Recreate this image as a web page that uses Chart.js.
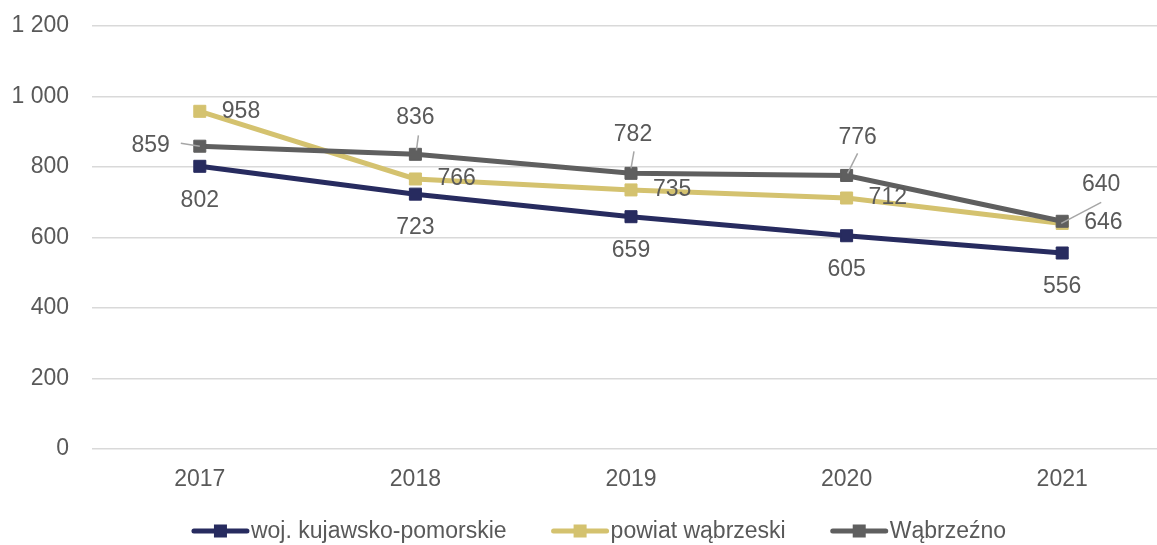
<!DOCTYPE html>
<html lang="pl">
<head>
<meta charset="utf-8">
<title>Wykres</title>
<script src="https://cdn.jsdelivr.net/npm/chart.js@4/dist/chart.umd.min.js"></script>
<style>
    html, body { margin: 0; padding: 0; background: #fff; overflow: hidden; }
    #wrap { position: relative; width: 1170px; height: 545px; }
</style>
</head>
<body>
<div id="wrap"><canvas id="chart"></canvas></div>
<script>
// dane
const years = ['2017', '2018', '2019', '2020', '2021'];
const seriesNames = ['woj. kujawsko-pomorskie', 'powiat wąbrzeski', 'Wąbrzeźno'];
const wojValues = [802, 723, 659, 605, 556];
const powiatValues = [958, 766, 735, 712, 640];
const miastoValues = [859, 836, 782, 776, 646];
const yTickValues = [0, 200, 400, 600, 800, 1000, 1200];

const colors = ['#272b5f', '#d4c26f', '#5f5f5f'];
const textColor = '#595959';
const fontFamily = "'Liberation Sans', Arial, sans-serif";

// rozmieszczenie etykiet wartości (przesunięcie względem punktu)
const labelPos = [
    years.map(() => ({ dx: 0, dy: 34, align: 'center' })),
    [
        { dx: 22, dy: 0, align: 'left' },
        { dx: 22, dy: 0, align: 'left' },
        { dx: 22, dy: 0, align: 'left' },
        { dx: 22, dy: 0, align: 'left' },
        { dx: 39, dy: -39, align: 'center', leader: [39, -21, -1, 0] }
    ],
    [
        { dx: -30, dy: -1, align: 'right', leader: [-19, -3, 0, 0] },
        { dx: 0, dy: -37, align: 'center', leader: [3, -19, 1, -4] },
        { dx: 2, dy: -39, align: 'center', leader: [3, -22, 0, -5] },
        { dx: 11, dy: -38, align: 'center', leader: [11, -22, 1, -2] },
        { dx: 22, dy: 1, align: 'left' }
    ]
];

function fmt(v) {
    return String(v).replace(/\B(?=(\d{3})+(?!\d))/g, ' ');
}

// etykiety wartości z liniami odniesienia
const valueLabels = {
    id: 'valueLabels',
    afterDatasetsDraw(chart) {
        const ctx = chart.ctx;
        ctx.save();
        ctx.font = '23px ' + fontFamily;
        ctx.textBaseline = 'middle';
        chart.data.datasets.forEach((ds, di) => {
            const meta = chart.getDatasetMeta(di);
            meta.data.forEach((pt, i) => {
                const p = labelPos[di][i];
                if (p.leader) {
                    ctx.strokeStyle = '#a6a6a6';
                    ctx.lineWidth = 1.5;
                    ctx.beginPath();
                    ctx.moveTo(pt.x + p.leader[0], pt.y + p.leader[1]);
                    ctx.lineTo(pt.x + p.leader[2], pt.y + p.leader[3]);
                    ctx.stroke();
                }
                ctx.fillStyle = textColor;
                ctx.textAlign = p.align;
                ctx.fillText(fmt(ds.data[i]), pt.x + p.dx, pt.y + p.dy);
            });
        });
        ctx.restore();
    }
};

// legenda w stylu linia + kwadrat
const lineLegend = {
    id: 'lineLegend',
    afterDraw(chart) {
        const ctx = chart.ctx;
        const lineW = 57, gap = 2, itemGap = 45, sq = 13, cy = 531, centerX = 599;
        ctx.save();
        ctx.font = '23px ' + fontFamily;
        ctx.textBaseline = 'middle';
        ctx.textAlign = 'left';
        const widths = seriesNames.map(n => lineW + gap + ctx.measureText(n).width);
        const total = widths.reduce((a, b) => a + b, 0) + itemGap * (widths.length - 1);
        let x = centerX - total / 2;
        seriesNames.forEach((name, i) => {
            ctx.strokeStyle = colors[i];
            ctx.lineWidth = 5;
            ctx.lineCap = 'round';
            ctx.beginPath();
            ctx.moveTo(x + 2, cy);
            ctx.lineTo(x + lineW - 2, cy);
            ctx.stroke();
            ctx.fillStyle = colors[i];
            ctx.fillRect(x + lineW / 2 - sq / 2, cy - sq / 2, sq, sq);
            ctx.fillStyle = textColor;
            ctx.fillText(name, x + lineW + gap, cy + 1);
            x += widths[i] + itemGap;
        });
        ctx.restore();
    }
};

const valueSets = [wojValues, powiatValues, miastoValues];

new Chart(document.getElementById('chart'), {
    type: 'line',
    data: {
        labels: years,
        datasets: valueSets.map((vals, i) => ({
            label: seriesNames[i],
            data: vals,
            borderColor: colors[i],
            backgroundColor: colors[i],
            borderWidth: 5,
            pointStyle: 'rect',
            pointRadius: 8.5,
            pointBorderWidth: 1,
            pointBackgroundColor: colors[i],
            pointBorderColor: colors[i],
            tension: 0,
            order: 3 - i
        }))
    },
    options: {
        responsive: true,
        maintainAspectRatio: false,
        animation: false,
        layout: { autoPadding: false, padding: { top: 26, right: 0, bottom: 53, left: 0 } },
        plugins: {
            legend: { display: false },
            tooltip: { enabled: false }
        },
        scales: {
            x: {
                offset: true,
                grid: { display: false },
                border: { display: false },
                ticks: { color: textColor, font: { family: fontFamily, size: 23 }, padding: 9 },
                afterFit: s => { s.height = 43; }
            },
            y: {
                min: 0,
                max: 1200,
                afterBuildTicks: s => { s.ticks = yTickValues.map(v => ({ value: v })); },
                grid: { color: '#d9d9d9', lineWidth: 1.5, drawTicks: false },
                border: { display: false },
                ticks: {
                    color: textColor,
                    font: { family: fontFamily, size: 23 },
                    padding: 23,
                    callback: v => fmt(v)
                },
                afterFit: s => {
                    s.width = 92;
                    s.paddingTop = 0;
                    s.paddingBottom = 0;
                }
            }
        }
    },
    plugins: [valueLabels, lineLegend]
});
</script>
</body>
</html>
